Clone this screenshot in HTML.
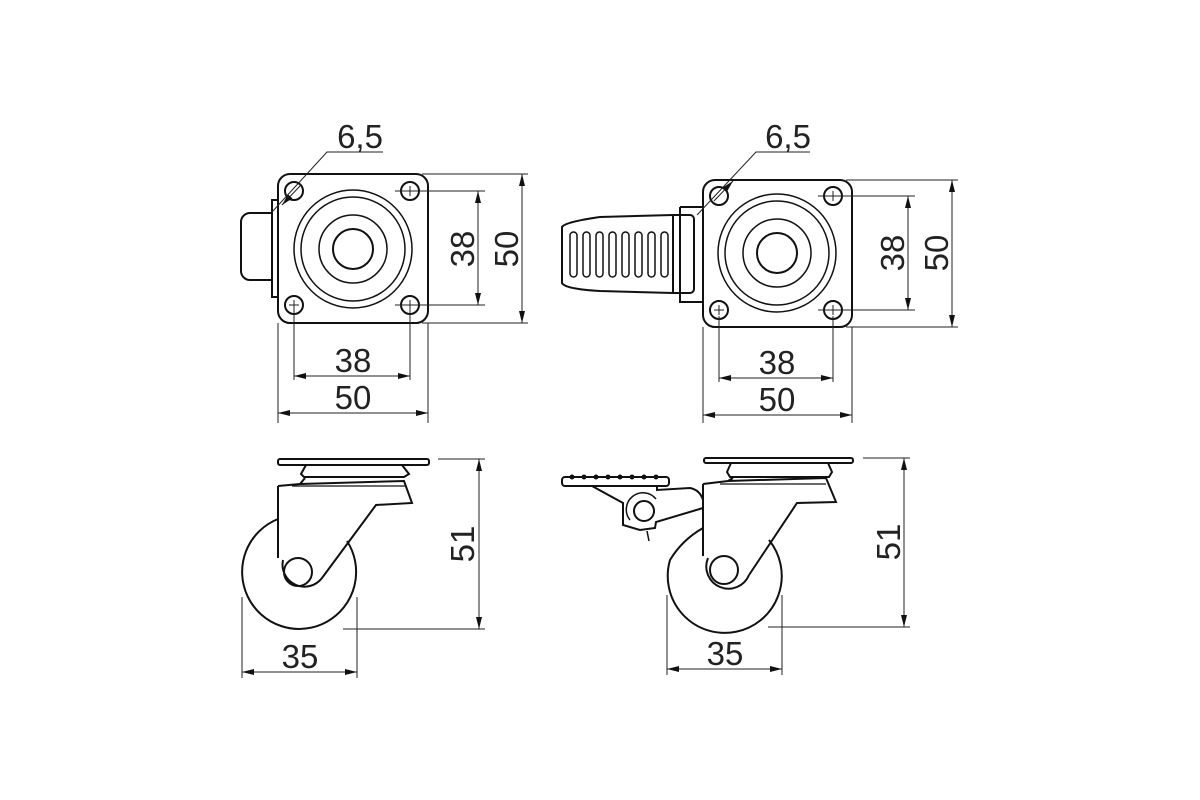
<!DOCTYPE html>
<html><head><meta charset="utf-8"><style>
html,body{margin:0;padding:0;background:#fff;}
svg{display:block;}
text{font-family:"Liberation Sans",sans-serif;font-size:33px;fill:#222;}
</style></head><body>
<svg width="1200" height="800" viewBox="0 0 1200 800" xmlns="http://www.w3.org/2000/svg">
<defs>
<marker id="a" viewBox="0 0 12 6" refX="12" refY="3" markerWidth="12" markerHeight="6" orient="auto-start-reverse" markerUnits="userSpaceOnUse"><path d="M0,0 L12,3 L0,6 z" fill="#111"/></marker>
</defs>
<g fill="none" stroke="#111" stroke-width="2">
<!-- TOP LEFT -->
<path d="M272,200 h6 v97 h-6 z"/>
<path d="M272,213 h-22 a9,9 0 0 0 -9,9 v49 a9,9 0 0 0 9,9 h22"/>
<rect x="278" y="174" width="150" height="149" rx="12"/>
<circle cx="294" cy="191" r="9"/><circle cx="410" cy="191" r="9"/><circle cx="294" cy="305" r="9"/><circle cx="410" cy="305" r="9"/>
<circle cx="353" cy="249" r="59" stroke-width="1.5"/><circle cx="353" cy="249" r="52" stroke-width="1.5"/><circle cx="353" cy="249" r="34" stroke-width="1.5"/><circle cx="353" cy="249" r="20"/>
<!-- TOP RIGHT -->
<path d="M680,207 h23 M680,207 v95 h23"/>
<path d="M673,215 h17 a4,4 0 0 1 4,4 v70 a4,4 0 0 1 -4,4 h-17 z"/>
<path d="M673,215 L600,217 Q565,222 562,227 V283 Q565,289 600,291 L673,293"/>
<rect x="703" y="180" width="149" height="147" rx="12"/>
<circle cx="719" cy="196" r="9"/><circle cx="833" cy="196" r="9"/><circle cx="719" cy="310" r="9"/><circle cx="833" cy="310" r="9"/>
<circle cx="777" cy="253" r="59" stroke-width="1.5"/><circle cx="777" cy="253" r="52" stroke-width="1.5"/><circle cx="777" cy="253" r="34" stroke-width="1.5"/><circle cx="777" cy="253" r="20"/>
<!-- BOTTOM LEFT -->
<rect x="278" y="459" width="151" height="6" rx="2"/>
<path d="M306,465 L301,474 L304,477 L404,477 L409,474 L402,465"/>
<path d="M278,486 L300,484 L305,478 M278,486 L278,558 M300,484 L404,481 L412,503 L376,505 L322,578"/>
<path d="M292,486 L405,486" stroke-width="1.2"/>
<path d="M278,519 A57,57 0 1 0 347,541"/>
<path d="M283,560 A22,22 0 0 0 322,578"/>
<circle cx="298" cy="572" r="14"/>
<!-- BOTTOM RIGHT -->
<rect x="704" y="458" width="149" height="5" rx="2"/>
<path d="M731,463 L727,472 L730,477 L829,477 L832,472 L828,463"/>
<path d="M703,484 L728,481 L733,478 M703,484 L703,556 M728,481 L826,478 L836,502 L797,503 L749,575"/>
<path d="M720,484 L826,484" stroke-width="1.2"/>
<path d="M703,528 Q682,540 670,560 A57,57 0 1 0 769,540"/>
<path d="M708,558 A22,22 0 0 0 749,575"/>
<circle cx="724" cy="570" r="14"/>
<!-- pedal -->
<rect x="562" y="477" width="107" height="9" rx="3"/>
<path d="M592,486 L623,503 L623,525 L640,530 L655,528 L656,522 L703,508"/>
<path d="M657,486 L657,490 L690,488 Q700,490 703,500"/>
<path d="M630,520 A15,15 0 0 1 656,499" stroke-width="1.5"/>
<circle cx="644" cy="511" r="10"/>
<path d="M647,531 L649,541" stroke-width="1.5"/>
</g>
<g fill="#111">
<circle cx="572" cy="477" r="2.5"/><circle cx="584" cy="477" r="2.5"/><circle cx="596" cy="477" r="2.5"/><circle cx="608" cy="477" r="2.5"/><circle cx="620" cy="477" r="2.5"/><circle cx="632" cy="477" r="2.5"/><circle cx="644" cy="477" r="2.5"/><circle cx="656" cy="477" r="2.5"/>
</g>
<g fill="none" stroke="#111" stroke-width="1.5">
<rect x="570" y="232" width="7" height="45" rx="3.5"/><rect x="583" y="232" width="7" height="45" rx="3.5"/><rect x="596" y="232" width="7" height="45" rx="3.5"/><rect x="609" y="232" width="7" height="45" rx="3.5"/><rect x="622" y="232" width="7" height="45" rx="3.5"/><rect x="635" y="232" width="7" height="45" rx="3.5"/><rect x="648" y="232" width="7" height="45" rx="3.5"/><rect x="661" y="232" width="7" height="45" rx="3.5"/>
</g>
<!-- dimension lines -->
<g stroke="#222" stroke-width="1" fill="none">
<!-- hole crosses -->
<path d="M405,191h10M410,186v10M405,305h10M410,300v10M289,305h10M294,300v10"/>
<path d="M828,196h10M833,191v10M828,310h10M833,305v10M714,310h10M719,305v10"/>
<!-- TL -->
<path d="M272,212 L327,152 H383"/>
<path d="M282,205 L300,186" marker-start="url(#a)"/>
<path d="M294,310 V380 M410,310 V380 M278,323 V423 M428,323 V423"/>
<path d="M294,376 H410" marker-start="url(#a)" marker-end="url(#a)"/>
<path d="M278,413 H428" marker-start="url(#a)" marker-end="url(#a)"/>
<path d="M395,191 H485 M395,305 H485 M422,174 H528 M422,323 H528"/>
<path d="M478,191 V305" marker-start="url(#a)" marker-end="url(#a)"/>
<path d="M522,174 V323" marker-start="url(#a)" marker-end="url(#a)"/>
<!-- TR -->
<path d="M697,215 L756,152 H810"/>
<path d="M733,181 L714,201" marker-start="url(#a)"/>
<path d="M719,316 V382 M833,316 V382 M703,327 V423 M852,327 V423"/>
<path d="M719,378 H833" marker-start="url(#a)" marker-end="url(#a)"/>
<path d="M703,415 H852" marker-start="url(#a)" marker-end="url(#a)"/>
<path d="M818,196 H915 M818,310 H915 M846,180 H958 M846,327 H958"/>
<path d="M908,196 V310" marker-start="url(#a)" marker-end="url(#a)"/>
<path d="M952,180 V327" marker-start="url(#a)" marker-end="url(#a)"/>
<!-- BL -->
<path d="M438,459 H485 M343,629 H485"/>
<path d="M479,459 V629" marker-start="url(#a)" marker-end="url(#a)"/>
<path d="M242,597 V678 M357,597 V678"/>
<path d="M242,672 H357" marker-start="url(#a)" marker-end="url(#a)"/>
<!-- BR -->
<path d="M863,458 H910 M768,627 H910"/>
<path d="M904,458 V627" marker-start="url(#a)" marker-end="url(#a)"/>
<path d="M667,595 V675 M782,595 V675"/>
<path d="M667,669 H782" marker-start="url(#a)" marker-end="url(#a)"/>
</g>
<g text-anchor="middle">
<text x="360" y="148">6,5</text>
<text x="353" y="372">38</text>
<text x="353" y="409">50</text>
<text transform="translate(474,249) rotate(-90)">38</text>
<text transform="translate(518,249) rotate(-90)">50</text>
<text x="788" y="148">6,5</text>
<text x="777" y="374">38</text>
<text x="777" y="411">50</text>
<text transform="translate(904,253) rotate(-90)">38</text>
<text transform="translate(948,253) rotate(-90)">50</text>
<text transform="translate(474,544) rotate(-90)">51</text>
<text x="300" y="668">35</text>
<text transform="translate(900,542) rotate(-90)">51</text>
<text x="725" y="665">35</text>
</g>
</svg>
</body></html>
